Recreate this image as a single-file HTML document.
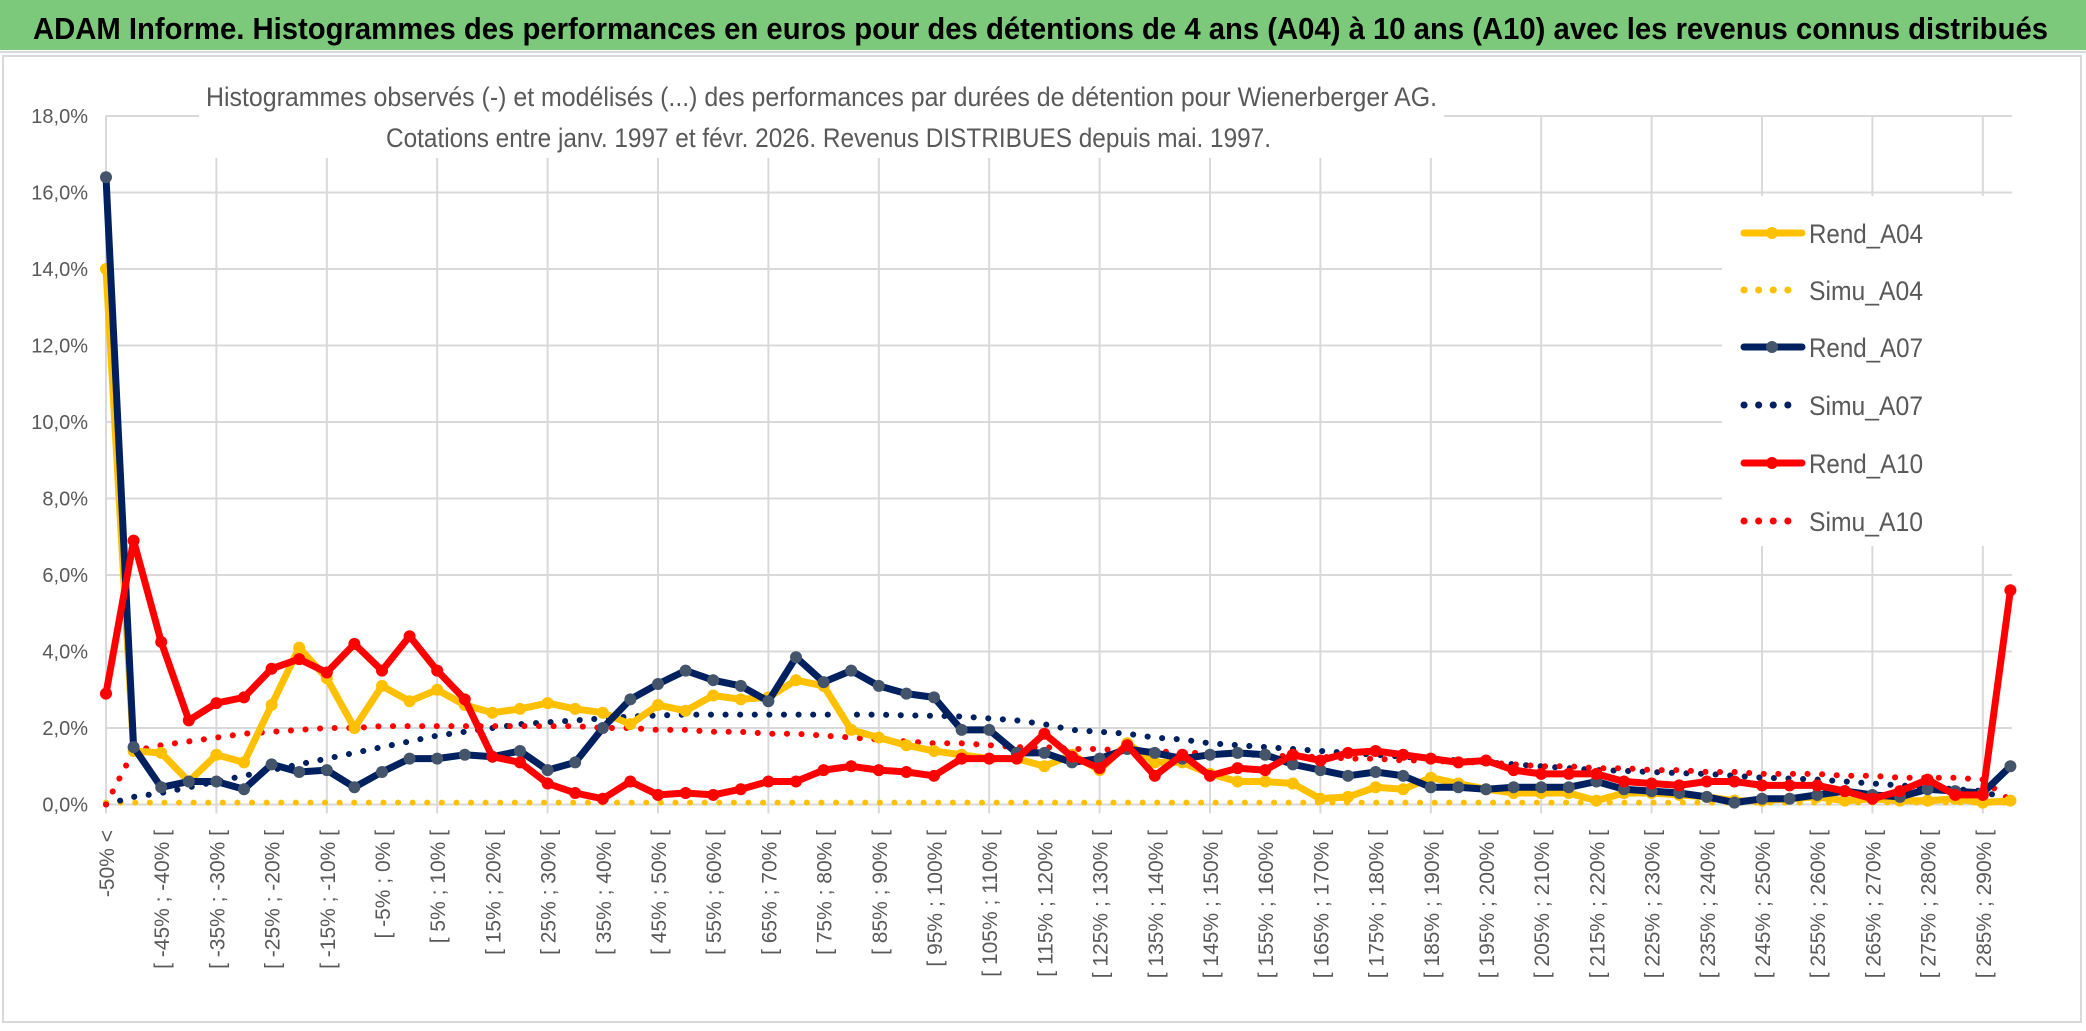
<!DOCTYPE html>
<html><head><meta charset="utf-8">
<style>
html,body{margin:0;padding:0;background:#fff;}
svg{display:block;font-family:"Liberation Sans",sans-serif;}
</style></head>
<body>
<svg id="chart" width="2086" height="1031" viewBox="0 0 2086 1031" xmlns="http://www.w3.org/2000/svg">
  <rect x="0" y="0" width="2086" height="1031" fill="#fff"/>
  <rect x="0" y="0" width="2086" height="50" fill="#7dc97c"/>
  <line x1="0" y1="52" x2="2086" y2="52" stroke="#d9d9d9" stroke-width="2"/>
  <text x="33" y="39" font-size="31" font-weight="bold" fill="#000" textLength="2015" lengthAdjust="spacingAndGlyphs">ADAM Informe. Histogrammes des performances en euros pour des détentions de 4 ans (A04) à 10 ans (A10) avec les revenus connus distribués</text>
  <rect x="3" y="56" width="2078" height="966" fill="none" stroke="#d9d9d9" stroke-width="2"/>
  <g id="grid"></g>
  <rect x="199" y="60" width="1245" height="98" fill="#fff"/>
  <rect x="1722" y="196" width="292" height="350" fill="#fff"/>
  <text x="206" y="106" font-size="27" fill="#595959" textLength="1231" lengthAdjust="spacingAndGlyphs">Histogrammes observés (-) et modélisés (...) des performances par durées de détention pour Wienerberger AG.</text>
  <text x="386" y="147" font-size="27" fill="#595959" textLength="885" lengthAdjust="spacingAndGlyphs">Cotations entre janv. 1997 et févr. 2026. Revenus DISTRIBUES depuis mai. 1997.</text>
  <g id="ylabels"></g>
  <g id="xlabels"></g>
  <g id="series"></g>
  <g id="legend"></g>
</svg>
<script>
const rendA04 = [14.0,1.4,1.35,0.6,1.3,1.1,2.6,4.1,3.3,2.0,3.1,2.7,3.0,2.6,2.4,2.5,2.65,2.5,2.4,2.1,2.6,2.45,2.85,2.75,2.8,3.25,3.1,1.95,1.75,1.55,1.4,1.3,1.2,1.2,1.0,1.3,0.9,1.6,1.1,1.1,0.8,0.6,0.6,0.55,0.15,0.2,0.45,0.4,0.7,0.55,0.4,0.3,0.3,0.3,0.1,0.3,0.3,0.25,0.2,0.1,0.1,0.15,0.2,0.1,0.15,0.1,0.1,0.15,0.05,0.1];
const simuA04 = [0.05,0.05,0.05,0.05,0.05,0.05,0.05,0.05,0.05,0.05,0.05,0.05,0.05,0.05,0.05,0.05,0.05,0.05,0.05,0.05,0.05,0.05,0.05,0.05,0.05,0.05,0.05,0.05,0.05,0.05,0.05,0.05,0.05,0.05,0.05,0.05,0.05,0.05,0.05,0.05,0.05,0.05,0.05,0.05,0.05,0.05,0.05,0.05,0.05,0.05,0.05,0.05,0.05,0.05,0.05,0.05,0.05,0.05,0.05,0.05,0.05,0.05,0.05,0.05,0.05,0.05,0.05,0.05,0.05,0.05];
const rendA07 = [16.4,1.5,0.45,0.6,0.6,0.4,1.05,0.85,0.9,0.45,0.85,1.2,1.2,1.3,1.25,1.4,0.9,1.1,2.0,2.75,3.15,3.5,3.25,3.1,2.7,3.85,3.2,3.5,3.1,2.9,2.8,1.95,1.95,1.35,1.35,1.1,1.2,1.45,1.35,1.2,1.3,1.35,1.3,1.05,0.9,0.75,0.85,0.75,0.45,0.45,0.4,0.45,0.45,0.45,0.6,0.4,0.35,0.3,0.2,0.05,0.15,0.15,0.25,0.35,0.25,0.2,0.4,0.35,0.3,1.0];
const simuA07 = [0.0,0.2,0.3,0.45,0.6,0.75,0.9,1.05,1.2,1.35,1.5,1.65,1.8,1.9,2.0,2.1,2.15,2.2,2.25,2.3,2.33,2.35,2.35,2.35,2.35,2.35,2.35,2.35,2.35,2.33,2.32,2.3,2.25,2.2,2.1,1.95,1.9,1.85,1.75,1.7,1.6,1.55,1.5,1.45,1.4,1.35,1.3,1.25,1.2,1.15,1.1,1.05,1.0,0.95,0.9,0.88,0.85,0.82,0.8,0.75,0.7,0.68,0.65,0.6,0.55,0.5,0.45,0.4,0.35,0.1];
const rendA10 = [2.9,6.9,4.25,2.2,2.65,2.8,3.55,3.8,3.45,4.2,3.5,4.4,3.5,2.75,1.25,1.1,0.55,0.3,0.15,0.6,0.25,0.3,0.25,0.4,0.6,0.6,0.9,1.0,0.9,0.85,0.75,1.2,1.2,1.2,1.85,1.25,0.95,1.55,0.75,1.3,0.75,0.95,0.9,1.3,1.15,1.35,1.4,1.3,1.2,1.1,1.15,0.9,0.8,0.8,0.8,0.6,0.55,0.5,0.6,0.6,0.5,0.5,0.5,0.35,0.15,0.35,0.65,0.25,0.25,5.6];
const simuA10 = [0.0,1.4,1.55,1.65,1.75,1.85,1.9,1.95,2.0,2.0,2.05,2.05,2.05,2.05,2.05,2.05,2.05,2.05,2.0,2.0,1.95,1.95,1.9,1.9,1.85,1.85,1.8,1.75,1.7,1.65,1.6,1.6,1.55,1.5,1.5,1.45,1.45,1.4,1.4,1.35,1.35,1.3,1.3,1.25,1.25,1.2,1.2,1.15,1.15,1.1,1.1,1.05,1.0,1.0,0.95,0.95,0.9,0.9,0.85,0.85,0.8,0.8,0.8,0.75,0.75,0.7,0.7,0.7,0.65,0.1];
const yTicks = [0,2,4,6,8,10,12,14,16,18];
const yTickLabels = ["0,0%","2,0%","4,0%","6,0%","8,0%","10,0%","12,0%","14,0%","16,0%","18,0%"];
const categories = ["-50% <"];
for (let a = -50; a < 295; a += 5) categories.push("[ " + a + "% ; " + (a + 5) + "% [");
const seriesNames = ["Rend_A04","Simu_A04","Rend_A07","Simu_A07","Rend_A10","Simu_A10"];

const NS = "http://www.w3.org/2000/svg";
const X0 = 106, DX = 27.6, Y0 = 804.5, KY = 38.25, XR = 2012;
function xs(i){ return X0 + i * DX; }
function ys(v){ return Y0 - v * KY; }
function mk(tag, attrs, parent){ const e = document.createElementNS(NS, tag); for (const k in attrs) e.setAttribute(k, attrs[k]); parent.appendChild(e); return e; }

const grid = document.getElementById('grid');
yTicks.forEach((v) => {
  const l = mk('line', {x1: X0, x2: XR, y1: ys(v), y2: ys(v), stroke: '#d9d9d9', 'stroke-width': 2}, grid);
  
  
});
for (let i = 0; i < categories.length; i += 4) {
  const l = mk('line', {x1: xs(i), x2: xs(i), y1: ys(18), y2: Y0 + 9, stroke: '#d9d9d9', 'stroke-width': 2}, grid);
  
  
}

const yl = document.getElementById('ylabels');
yTicks.forEach((v, k) => {
  const t = mk('text', {x: 88, y: ys(v) + 7, 'text-anchor': 'end', 'font-size': 20, fill: '#595959'}, yl);
  t.textContent = yTickLabels[k];
  
  
});

const xl = document.getElementById('xlabels');
categories.forEach((c, i) => {
  if (i % 2 !== 0) return;
  const x = xs(i) + 8, y = 830;
  const t = mk('text', {x: x, y: y, 'text-anchor': 'end', 'font-size': 21, fill: '#595959', transform: 'rotate(-90 ' + x + ' ' + y + ')'}, xl);
  t.textContent = c;
  
  
});

const sg = document.getElementById('series');
function pts(arr){ return arr.map((v, i) => xs(i).toFixed(1) + ',' + ys(v).toFixed(1)).join(' '); }
function dotted(arr, color, name){
  const p = mk('polyline', {points: pts(arr), fill: 'none', stroke: color, 'stroke-width': 6, 'stroke-linecap': 'round', 'stroke-dasharray': '0.1 14.5'}, sg);
  
  
}
function solid(arr, color, mcolor, name){
  const p = mk('polyline', {points: pts(arr), fill: 'none', stroke: color, 'stroke-width': 7, 'stroke-linejoin': 'round'}, sg);
  
  
  arr.forEach((v, i) => {
    const c = mk('circle', {cx: xs(i), cy: ys(v), r: 6, fill: mcolor}, sg);
    
    
  });
}
dotted(simuA04, '#ffc000', 'simu-a04-line');
dotted(simuA07, '#002060', 'simu-a07-line');
dotted(simuA10, '#ff0000', 'simu-a10-line');
solid(rendA04, '#ffc000', '#ffc000', 'rend-a04-line');
solid(rendA07, '#002060', '#44546a', 'rend-a07-line');
solid(rendA10, '#ff0000', '#ff0000', 'rend-a10-line');

const lg = document.getElementById('legend');
const lgStyles = [['#ffc000','#ffc000',false],['#ffc000',null,true],['#002060','#44546a',false],['#002060',null,true],['#ff0000','#ff0000',false],['#ff0000',null,true]];
const lgY = [233,290,347,405,463,521];
seriesNames.forEach((n, k) => {
  const y = lgY[k], s = lgStyles[k];
  const g = mk('g', {}, lg);
  
  
  if (s[2]) {
    mk('line', {x1: 1744, x2: 1801, y1: y, y2: y, stroke: s[0], 'stroke-width': 7, 'stroke-linecap': 'round', 'stroke-dasharray': '0.1 14.5'}, g);
  } else {
    mk('line', {x1: 1744, x2: 1802, y1: y, y2: y, stroke: s[0], 'stroke-width': 7, 'stroke-linecap': 'round'}, g);
    mk('circle', {cx: 1772, cy: y, r: 6, fill: s[1]}, g);
  }
  const t = mk('text', {x: 1809, y: y + 10, 'font-size': 27, fill: '#595959', textLength: 114, lengthAdjust: 'spacingAndGlyphs'}, g);
  t.textContent = n;
});
</script>
</body></html>
